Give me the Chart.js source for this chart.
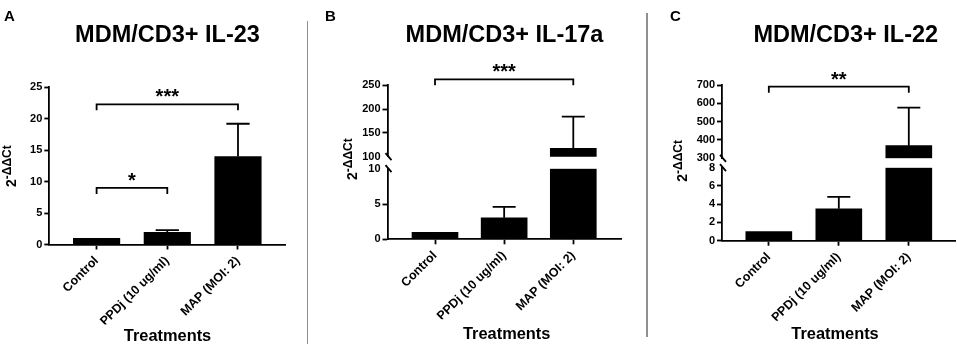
<!DOCTYPE html>
<html><head><meta charset="utf-8">
<script src="https://cdn.jsdelivr.net/npm/chart.js@4.4.1/dist/chart.umd.min.js"></script>
<style>
html,body{margin:0;padding:0;background:#fff;}
#wrap{position:relative;width:957px;height:348px;overflow:hidden;background:#fff;}
#wrap canvas{position:absolute;left:0;top:0;}
.sep{position:absolute;width:1.6px;background:#8f8f8f;}
</style></head><body>
<div id="wrap">
<div class="sep" style="left:306.5px;top:21px;height:323px"></div>
<div class="sep" style="left:646px;top:13px;height:324px"></div>
<canvas id="cA" width="957" height="348"></canvas>
<canvas id="cB" width="957" height="348"></canvas>
<canvas id="cC" width="957" height="348"></canvas>
</div>
<script>
// ---------- data ----------
const categories = ['Control', 'PPDj (10 ug/ml)', 'MAP (MOI: 2)'];

const il23Mean  = [1.0, 1.95, 14.0];
const il23Upper = [null, 2.3, 19.2];
const il23Ticks = [0, 5, 10, 15, 20, 25];
const il23SigPairs  = [[0, 1], [0, 2]];
const il23SigLevels = [9.0, 22.3];
const il23SigLabels = ['*', '***'];

const il17Mean  = [1.0, 3.05, 117.6];
const il17Upper = [null, 4.6, 184];
const il17LowTicks  = [0, 5, 10];
const il17HighTicks = [100, 150, 200, 250];
const il17SigPairs  = [[0, 2]];
const il17SigLevels = [262.6];
const il17SigLabels = ['***'];

const il22Mean  = [1.0, 3.5, 369];
const il22Upper = [null, 4.8, 576];
const il22LowTicks  = [0, 2, 4, 6, 8];
const il22HighTicks = [300, 400, 500, 600, 700];
const il22SigPairs  = [[0, 2]];
const il22SigLevels = [690.7];
const il22SigLabels = ['**'];

// ---------- drawing ----------
const FONT = "'Liberation Sans', Arial, Helvetica, sans-serif";
const LW = 1.8;

function makePanel(p) {
  const broken = !!p.highTicks;
  const lowTicks = broken ? p.lowTicks : p.ticks;
  const lowMax = lowTicks[lowTicks.length - 1];
  const YW = 30, XH = 80;
  const first = (arr) => arr[0];
  const last = (arr) => arr[arr.length - 1];

  const yBase = (ticks) => ({
    type: 'linear', position: 'left',
    min: first(ticks), max: last(ticks),
    afterBuildTicks: s => { s.ticks = ticks.map(v => ({ value: v })); },
    afterFit: s => { s.width = YW; },
    ticks: { autoSkip: false, color: '#000', padding: 2, font: { family: FONT, size: 11, weight: 'bold' } },
    grid: {
      display: true, drawOnChartArea: false, drawTicks: true, tickLength: 5, tickWidth: LW,
      tickColor: ctx => (broken && ctx.tick && (ctx.tick.value === lowMax || ctx.tick.value === first(p.highTicks || [NaN]))) ? 'rgba(0,0,0,0)' : '#000'
    },
    border: { display: true, color: '#000', width: LW }
  });

  const scales = {
    x: {
      type: 'linear', min: p.xMin, max: p.xMax, offset: false,
      afterBuildTicks: s => { s.ticks = categories.map((c, i) => ({ value: i })); },
      afterFit: s => { s.height = XH; },
      ticks: {
        callback: v => categories[v], autoSkip: false, minRotation: 45, maxRotation: 45,
        color: '#000', padding: 4, font: { family: FONT, size: 12.5, weight: 'bold' }
      },
      grid: { display: true, offset: false, drawOnChartArea: false, drawTicks: true, tickLength: 5, tickWidth: LW, tickColor: '#000' },
      border: { display: true, color: '#000', width: LW }
    },
    y: Object.assign(yBase(lowTicks), broken ? { stack: 'v', stackWeight: p.lowPx } : {})
  };
  if (broken) {
    scales.yGap = {
      type: 'linear', position: 'left', stack: 'v', stackWeight: p.gapPx, min: 0, max: 1,
      afterFit: s => { s.width = YW; },
      ticks: { display: false }, grid: { display: false }, border: { display: false }
    };
    scales.yUp = Object.assign(yBase(p.highTicks), { stack: 'v', stackWeight: p.highPx });
  }

  const datasets = [{
    data: p.mean.map((v, i) => ({ x: i, y: Math.min(v, lowMax) })),
    yAxisID: 'y', backgroundColor: '#000', borderWidth: 0,
    barThickness: p.barW, grouped: false
  }];
  if (broken) {
    const hMin = first(p.highTicks);
    datasets.push({
      data: p.mean.map((v, i) => ({ x: i, y: v > hMin ? [hMin, v] : null })),
      yAxisID: 'yUp', backgroundColor: '#000', borderWidth: 0,
      barThickness: p.barW, grouped: false
    });
  }

  const axisFor = (chart, v) => (broken && v > lowMax) ? chart.scales.yUp : chart.scales.y;

  const deco = {
    id: 'deco' + p.id,
    afterDatasetsDraw(chart) {
      const ctx = chart.ctx, xs = chart.scales.x;
      ctx.save();
      ctx.strokeStyle = '#000'; ctx.lineWidth = LW;
      // error bars (mean -> mean + SD)
      p.upper.forEach((u, i) => {
        if (u == null) return;
        const ax = axisFor(chart, p.mean[i]);
        const x = xs.getPixelForValue(i);
        const y0 = ax.getPixelForValue(p.mean[i]);
        const y1 = ax.getPixelForValue(u);
        const half = p.barW / 4;
        ctx.beginPath();
        ctx.moveTo(x, y0); ctx.lineTo(x, y1);
        ctx.moveTo(x - half, y1); ctx.lineTo(x + half, y1);
        ctx.stroke();
      });
      // axis break marks
      if (broken) {
        const x = chart.chartArea.left + 1;
        [[chart.scales.y, lowMax], [chart.scales.yUp, first(p.highTicks)]].forEach(([ax, v]) => {
          const y = ax.getPixelForValue(v);
          ctx.beginPath();
          ctx.moveTo(x - 3, y - 3.5); ctx.lineTo(x + 3, y + 3.5);
          ctx.stroke();
        });
      }
      ctx.restore();
    },
    afterDraw(chart) {
      const ctx = chart.ctx, xs = chart.scales.x;
      ctx.save();
      ctx.fillStyle = '#000'; ctx.strokeStyle = '#000'; ctx.lineWidth = LW;
      // significance brackets
      p.sigPairs.forEach((pair, k) => {
        const ax = axisFor(chart, p.sigLevels[k]);
        const y = ax.getPixelForValue(p.sigLevels[k]);
        const x1 = xs.getPixelForValue(pair[0]), x2 = xs.getPixelForValue(pair[1]);
        ctx.beginPath();
        ctx.moveTo(x1, y + 6); ctx.lineTo(x1, y); ctx.lineTo(x2, y); ctx.lineTo(x2, y + 6);
        ctx.stroke();
        ctx.font = 'bold 20px ' + FONT;
        ctx.textAlign = 'center'; ctx.textBaseline = 'alphabetic';
        ctx.fillText(p.sigLabels[k], (x1 + x2) / 2, y - 1);
      });
      // panel letter
      ctx.textAlign = 'left'; ctx.textBaseline = 'alphabetic';
      ctx.font = 'bold 15px ' + FONT;
      ctx.fillText(p.letter, p.letterX, 21);
      // title
      ctx.textAlign = 'center';
      ctx.font = 'bold 23.5px ' + FONT;
      ctx.fillText(p.title, p.titleX, 42);
      // x-axis title
      ctx.font = 'bold 16.4px ' + FONT;
      ctx.fillText('Treatments', p.xTitleX, p.xTitleY);
      // y-axis title 2^-ΔΔCt
      ctx.translate(p.yTitleX, p.yTitleY);
      ctx.rotate(-Math.PI / 2);
      ctx.textAlign = 'left';
      ctx.font = 'bold 14px ' + FONT;
      ctx.fillText('2', 0, 0);
      const w = ctx.measureText('2').width;
      ctx.font = 'bold 12px ' + FONT;
      ctx.fillText('-\u0394\u0394Ct', w, -5.5);
      ctx.restore();
    }
  };

  new Chart(document.getElementById(p.canvas), {
    type: 'bar',
    data: { datasets },
    options: {
      responsive: false, animation: false, devicePixelRatio: 1,
      layout: { padding: { left: p.left - YW, top: p.top, right: 957 - p.right, bottom: 348 - p.bottom - XH } },
      plugins: { legend: { display: false }, tooltip: { enabled: false } },
      scales
    },
    plugins: [deco]
  });
}

makePanel({
  id: 'A', canvas: 'cA', letter: 'A', letterX: 4, title: 'MDM/CD3+ IL-23', titleX: 167.5,
  xTitleX: 167.5, xTitleY: 341, yTitleX: 16, yTitleY: 187,
  left: 49.3, right: 285, top: 87.3, bottom: 244.5, xMin: -0.669, xMax: 2.665, barW: 46.5,
  mean: il23Mean, upper: il23Upper, ticks: il23Ticks,
  sigPairs: il23SigPairs, sigLevels: il23SigLevels, sigLabels: il23SigLabels
});
makePanel({
  id: 'B', canvas: 'cB', letter: 'B', letterX: 325, title: 'MDM/CD3+ IL-17a', titleX: 504.5,
  xTitleX: 506.7, xTitleY: 339, yTitleX: 357, yTitleY: 180,
  left: 387.5, right: 621.7, top: 85.3, bottom: 239.3, xMin: -0.687, xMax: 2.70, barW: 46,
  lowPx: 70.6, gapPx: 12, highPx: 71.4,
  mean: il17Mean, upper: il17Upper, lowTicks: il17LowTicks, highTicks: il17HighTicks,
  sigPairs: il17SigPairs, sigLevels: il17SigLevels, sigLabels: il17SigLabels
});
makePanel({
  id: 'C', canvas: 'cC', letter: 'C', letterX: 670, title: 'MDM/CD3+ IL-22', titleX: 845.8,
  xTitleX: 835, xTitleY: 339, yTitleX: 687, yTitleY: 181.7,
  left: 722, right: 955.7, top: 85, bottom: 240.7, xMin: -0.669, xMax: 2.67, barW: 46,
  lowPx: 73, gapPx: 9.4, highPx: 73.3,
  mean: il22Mean, upper: il22Upper, lowTicks: il22LowTicks, highTicks: il22HighTicks,
  sigPairs: il22SigPairs, sigLevels: il22SigLevels, sigLabels: il22SigLabels
});
</script>
</body></html>
